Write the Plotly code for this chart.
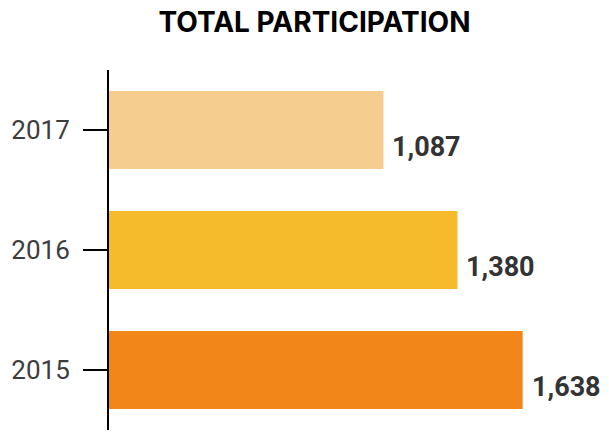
import plotly.graph_objects as go

years = ["2015", "2016", "2017"]
participants = [1638, 1380, 1087]
value_labels = ["1,638", "1,380", "1,087"]
bar_colors = ["#F38619", "#F6BA2D", "#F5CE8F"]

fig = go.Figure()
fig.add_trace(go.Bar(
    y=years, x=participants, orientation="h",
    marker=dict(color=bar_colors, line=dict(width=0)),
    width=0.65, hoverinfo="skip",
))

# numeric-looking category names are read as indices by annotations, so use the index
for i, (v, lab) in enumerate(zip(participants, value_labels)):
    fig.add_annotation(
        x=v, y=i, xref="x", yref="y", text=lab, showarrow=False,
        xanchor="left", yanchor="middle", xshift=7, yshift=-17,
        font=dict(family="Roboto", size=27, color="#333333", weight="bold"),
    )

W, H = 601, 435
fig.update_layout(
    width=W, height=H,
    margin=dict(l=101, r=0, t=62, b=13, autoexpand=False),
    paper_bgcolor="white", plot_bgcolor="white",
    showlegend=False,
    title=dict(
        text="TOTAL PARTICIPATION",
        x=306.5 / W, xanchor="center", xref="container",
        y=1 - 14.5 / H, yanchor="middle", yref="container",
        font=dict(family="Inter", size=28, color="#000000", weight="bold"),
    ),
    xaxis=dict(range=[0, 1980], showticklabels=False, showline=False,
               showgrid=False, zeroline=False, ticks="", fixedrange=True),
    yaxis=dict(
        type="category", range=[-0.5, 2.5],
        showline=True, linecolor="black", linewidth=2,
        ticks="outside", ticklen=24, tickwidth=2, tickcolor="black",
        ticklabelstandoff=8,
        tickfont=dict(family="Roboto", size=26, color="#3d3d3d"),
        showgrid=False, zeroline=False, fixedrange=True,
    ),
)

fig.write_html("out.html")
